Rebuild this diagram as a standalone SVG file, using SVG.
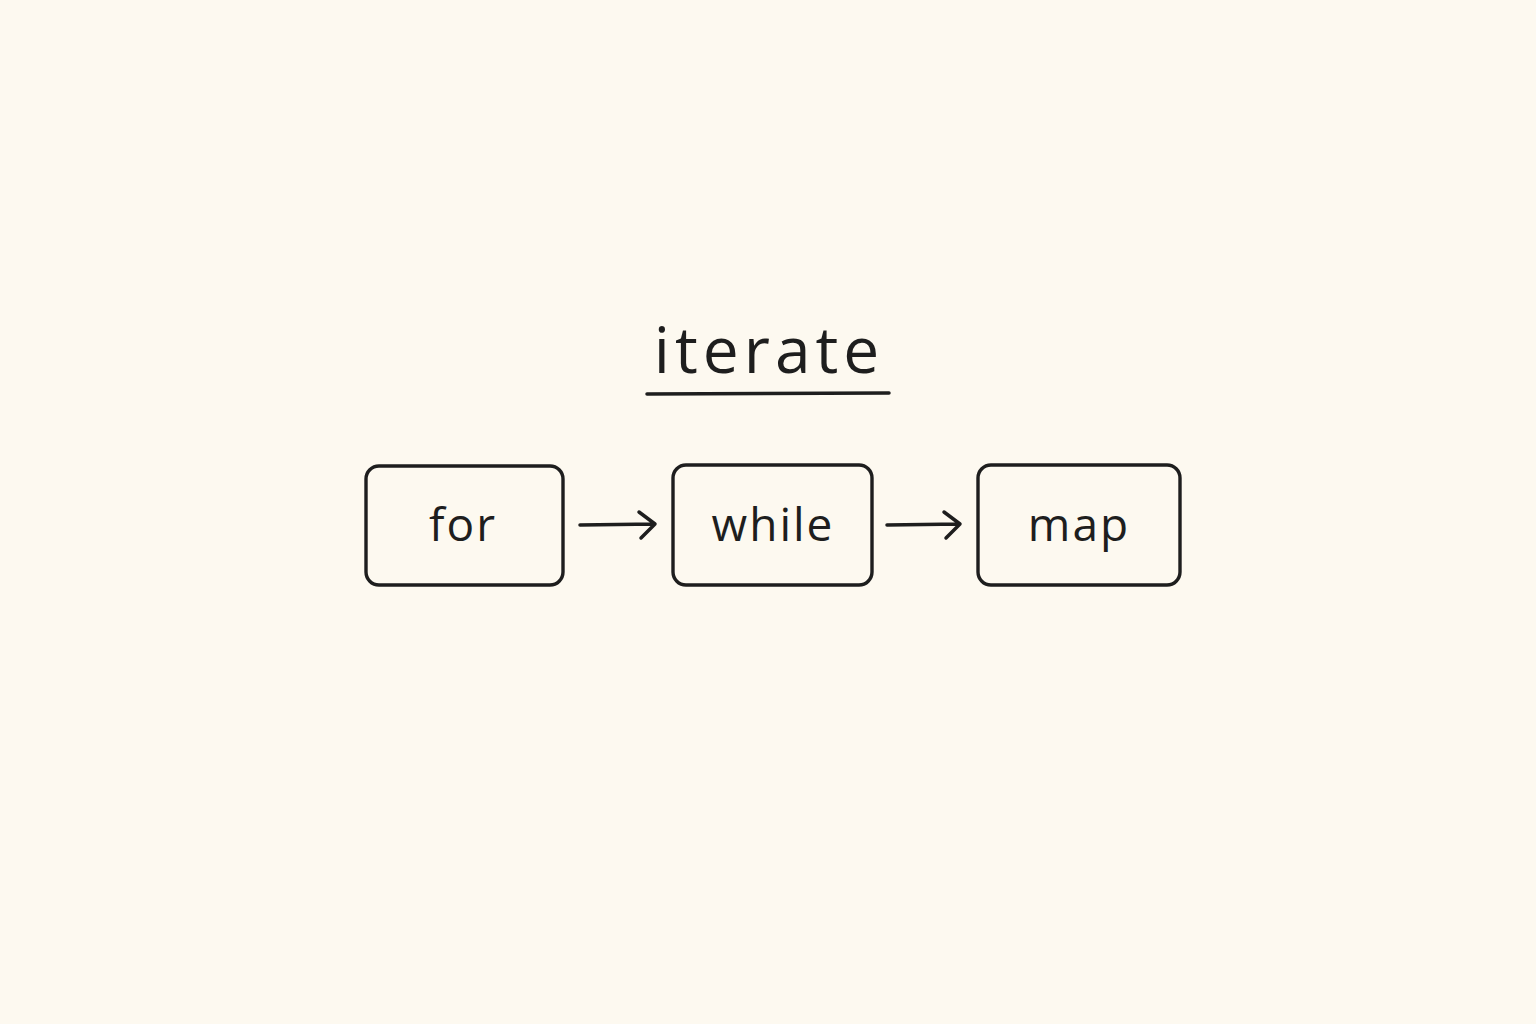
<svg xmlns="http://www.w3.org/2000/svg" width="1536" height="1024" viewBox="0 0 1536 1024">
<style>
.box{fill:none;stroke:#1e1e1e;stroke-width:3.4}
.lbl{font-family:"Open Sans","DejaVu Sans",sans-serif;font-size:46px;fill:#1e1e1e;text-anchor:middle;letter-spacing:2px}
.ttl{font-family:"Open Sans","DejaVu Sans",sans-serif;font-size:64px;fill:#1e1e1e;text-anchor:middle;letter-spacing:5px}
.conn{stroke:#1e1e1e;stroke-width:3.5;fill:none;stroke-linecap:round;stroke-linejoin:round}
</style>
<rect width="1536" height="1024" fill="#fdf9f0"/>
<g id="title">
<text class="ttl" x="769" y="373">iterate</text>
<line x1="647" y1="394" x2="889" y2="393" class="conn"/>
</g>
<g id="node-for">
<rect class="box" x="366" y="466" width="197" height="119" rx="13"/>
<text class="lbl" x="463" y="541">for</text>
</g>
<g id="node-while">
<rect class="box" x="673" y="465" width="199" height="120" rx="13"/>
<text class="lbl" x="773" y="541">while</text>
</g>
<g id="node-map">
<rect class="box" x="978" y="465" width="202" height="120" rx="13"/>
<text class="lbl" x="1079" y="541">map</text>
</g>
<g id="connectors">
<path class="conn" d="M580 525 L655 524 M639 512 L655 524 L641 538"/>
<path class="conn" d="M887 525 L960 524 M944 512 L960 524 L946 538"/>
</g>
</svg>
